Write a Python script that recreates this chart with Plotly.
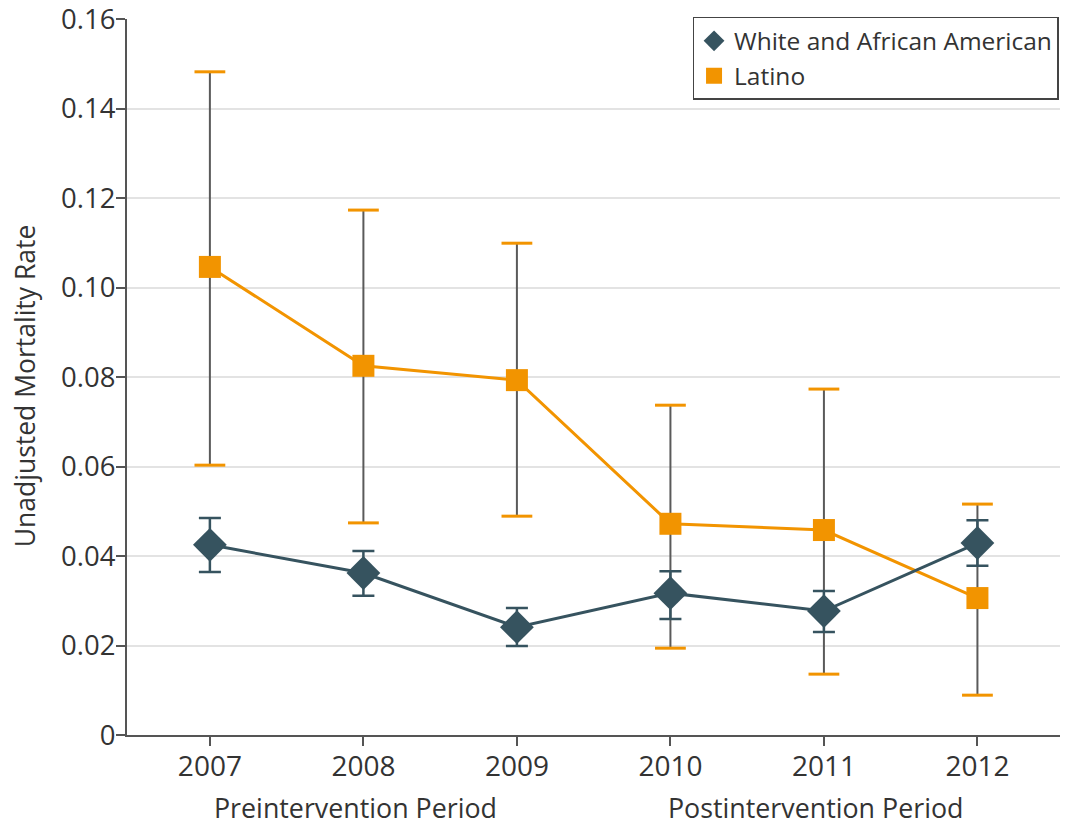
import plotly.graph_objects as go

years = [2007, 2008, 2009, 2010, 2011, 2012]

# White and African American
white_rate = [0.0425, 0.0362, 0.0241, 0.0317, 0.0277, 0.0429]
white_upper = [0.0485, 0.0411, 0.0284, 0.0366, 0.0322, 0.0480]
white_lower = [0.0364, 0.0311, 0.0199, 0.0259, 0.0230, 0.0378]

# Latino
latino_rate = [0.1046, 0.0825, 0.0793, 0.0472, 0.0458, 0.0306]
latino_upper = [0.1482, 0.1173, 0.1099, 0.0737, 0.0773, 0.0516]
latino_lower = [0.0603, 0.0474, 0.0489, 0.0194, 0.0136, 0.0089]

y_ticks = [0, 0.02, 0.04, 0.06, 0.08, 0.10, 0.12, 0.14, 0.16]
y_tick_text = ["0", "0.02", "0.04", "0.06", "0.08", "0.10", "0.12", "0.14", "0.16"]
period_labels = ["Preintervention Period", "Postintervention Period"]
period_pos = [2008, 2011]

TEAL = '#36535F'
ORANGE = '#F29400'
TEXT = '#333333'
FONT = 'Open Sans'

fig = go.Figure()

# Latino: gray whisker line, orange caps
fig.add_trace(go.Scatter(
    x=years, y=latino_rate,
    mode='lines+markers',
    name='Latino',
    showlegend=False,
    line=dict(color=ORANGE, width=3),
    marker=dict(symbol='square', size=22, color=ORANGE),
    error_y=dict(
        type='data', symmetric=False,
        array=[u - r for u, r in zip(latino_upper, latino_rate)],
        arrayminus=[r - l for r, l in zip(latino_rate, latino_lower)],
        color='#5a5a5a', thickness=2, width=0,
    ),
))
fig.add_trace(go.Scatter(
    x=years + years, y=latino_upper + latino_lower,
    mode='markers', showlegend=False, hoverinfo='skip',
    marker=dict(symbol='line-ew', size=22,
                line=dict(color=ORANGE, width=3)),
))

# White and African American
fig.add_trace(go.Scatter(
    x=years, y=white_rate,
    mode='lines+markers',
    name='White and African American',
    showlegend=False,
    line=dict(color=TEAL, width=3),
    marker=dict(symbol='diamond', size=26, color=TEAL),
    error_y=dict(
        type='data', symmetric=False,
        array=[u - r for u, r in zip(white_upper, white_rate)],
        arrayminus=[r - l for r, l in zip(white_rate, white_lower)],
        color=TEAL, thickness=2.5, width=11,
    ),
))

# legend entries: markers only
fig.add_trace(go.Scatter(
    x=[None], y=[None], mode='markers', name='White and African American',
    marker=dict(symbol='diamond', size=22, color=TEAL),
))
fig.add_trace(go.Scatter(
    x=[None], y=[None], mode='markers', name='Latino',
    marker=dict(symbol='square', size=20, color=ORANGE),
))

# period labels under the x axis
for label, pos in zip(period_labels, period_pos):
    fig.add_annotation(
        x=pos, y=0, xref='x', yref='paper',
        xshift=-8, yshift=-52, yanchor='top', showarrow=False,
        text=label, font=dict(size=26.8, color=TEXT, family=FONT),
    )

# y axis title (as annotation so it can sit a bit below centre)
fig.add_annotation(
    x=0, y=0.487, xref='paper', yref='paper',
    xshift=-102, xanchor='center', yanchor='middle',
    textangle=-90, showarrow=False,
    text='Unadjusted Mortality Rate',
    font=dict(size=26.5, color=TEXT, family=FONT),
)

# page body has an 8px margin, so the figure is sized to fit the window
fig.update_layout(
    width=1060,
    height=815,
    autosize=False,
    margin=dict(l=119, r=0, t=11, b=88, autoexpand=False),
    plot_bgcolor='white',
    paper_bgcolor='white',
    font=dict(family=FONT, size=22, color=TEXT),
    showlegend=True,
    legend=dict(
        x=0.601, y=1.003, xanchor='left', yanchor='top',
        bordercolor='#444444', borderwidth=1.5,
        bgcolor='white',
        font=dict(size=24.5, color=TEXT, family=FONT),
        itemsizing='trace',
        tracegroupgap=0,
    ),
    xaxis=dict(
        range=[2006.46, 2012.59],
        tickvals=years,
        ticktext=[str(y) for y in years],
        showgrid=False,
        zeroline=False,
        automargin=False,
        showline=True, linecolor='#555555', linewidth=2,
        ticks='outside', ticklen=9, tickwidth=2, tickcolor='#555555',
        ticklabelstandoff=-4,
        tickfont=dict(size=28, color=TEXT),
    ),
    yaxis=dict(
        range=[0, 0.16],
        tickvals=y_ticks,
        ticktext=y_tick_text,
        ticklabeloverflow='allow',
        ticklabelstandoff=-5,
        showgrid=True, gridcolor='#e3e3e3', gridwidth=2,
        zeroline=False,
        automargin=False,
        showline=True, linecolor='#555555', linewidth=2,
        ticks='outside', ticklen=9, tickwidth=2, tickcolor='#555555',
        tickfont=dict(size=27.5, color=TEXT),
    ),
)

fig.write_html("out.html")
